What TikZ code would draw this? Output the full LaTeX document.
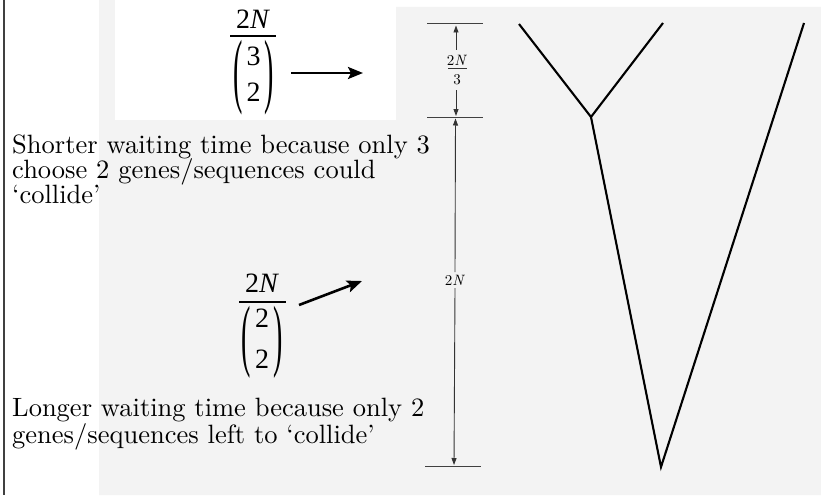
\documentclass[tikz,border=0pt]{standalone}
\usepackage{fontspec}
\usepackage{graphicx}
\usetikzlibrary{arrows.meta}
\setmainfont{lmroman10-regular.otf}[ItalicFont=lmroman10-italic.otf, BoldFont=lmroman10-bold.otf]
\newfontfamily\tms{Liberation Serif}
\definecolor{scan}{RGB}{243,243,243}
\newcommand{\lpar}[1]{\vcenter{\hbox{\scalebox{1}[#1]{(}}}}
\newcommand{\rpar}[1]{\vcenter{\hbox{\scalebox{1}[#1]{)}}}}
\begin{document}
\begin{tikzpicture}[x=1pt,y=-1pt,
  bodytext/.style={font=\fontsize{26.5}{25}\selectfont, inner sep=0, anchor=base west},
  fnum/.style={font=\tms\fontsize{28}{28}\selectfont, inner sep=0, anchor=base},
  fbin/.style={font=\tms\fontsize{28}{28}\selectfont, inner sep=0, anchor=center},
  fbar/.style={line width=1.3pt},
  bigarrow/.style={line width=2.6pt, -{Stealth[length=15pt,width=12pt,inset=3pt]}},
  dimline/.style={draw=black!80, line width=0.9pt},
  dimarrow/.style={dimline, -{Triangle[length=7pt,width=5pt]}},
  tickline/.style={draw=black!75, line width=1pt},
  branch/.style={draw=black, line width=2.1pt},
  dimlab/.style={font=\fontsize{15}{15}\selectfont, inner sep=0, anchor=base}
]
\useasboundingbox (0,0) rectangle (821,495);
% background
\fill[scan] (99,0) -- (115,0) -- (115,7) -- (821,7) -- (821,495) -- (99,495) -- cycle;
\fill[white] (115,0) rectangle (396,120);
\draw[black!75, line width=1.2pt] (4,0) -- (4,495);

% top formula
\node[fnum] (n1) at (253,29) {2\textit{N}};
\draw[fbar] (230,36) -- (276,36);
\node[fbin] (b1) at (253.5,78) {$\lpar{2.95}\vcenter{\hbox{\hspace{4pt}\begin{tabular}{@{}c@{}}3\\[8pt]2\end{tabular}\hspace{4pt}}}\rpar{2.95}$};
\coordinate (a1s) at (291,73);
\coordinate (a1e) at (363,73);
\draw[bigarrow] (a1s) -- (a1e);

% texts
\node[bodytext] (s1) at (12,153) {Shorter waiting time because only 3};
\node[bodytext] (s2) at (12,178) {choose 2 genes/sequences could};
\node[bodytext] (s3) at (12,203) {‘collide’};

% second formula
\node[fnum] (n2) at (262,292) {2\textit{N}};
\draw[fbar] (239,302) -- (286,302);
\node[fbin] (b2) at (262,342) {$\lpar{2.85}\vcenter{\hbox{\hspace{4pt}\begin{tabular}{@{}c@{}}2\\[13pt]2\end{tabular}\hspace{4pt}}}\rpar{2.85}$};
\coordinate (a2s) at (299,305);
\coordinate (a2e) at (362,281);
\draw[bigarrow] (a2s) -- (a2e);

\node[bodytext] (l1) at (12,416) {Longer waiting time because only 2};
\node[bodytext] (l2) at (12,443) {genes/sequences left to ‘collide’};

% dimension lines
\draw[tickline] (427,24) -- (483,24);
\draw[tickline] (427,117) -- (483,117);
\draw[tickline] (425,466) -- (481,466);
\node[dimlab] (t1) at (457,65) {2\textit{N}};
\draw[black!80, line width=0.8pt] (448,68.5) -- (467,68.5);
\node[dimlab] (t2) at (457,84) {3};
\coordinate (u1) at (456,50);
\coordinate (u1e) at (456,25.5);
\coordinate (u2) at (456,90);
\coordinate (u2e) at (456,116);
\draw[dimarrow] (u1) -- (u1e);
\draw[dimarrow] (u2) -- (u2e);
\node[dimlab, anchor=center] (t3) at (455,280) {2\textit{N}};
\coordinate (v1) at (455,272);
\coordinate (v1e) at (455.5,118.5);
\coordinate (v2) at (455,288);
\coordinate (v2e) at (454,465);
\draw[dimarrow] (v1) -- (v1e);
\draw[dimarrow] (v2) -- (v2e);

% tree
\coordinate (leafA) at (519,24);
\coordinate (leafB) at (663,23);
\coordinate (leafC) at (804,23);
\coordinate (junc) at (591,117);
\coordinate (root) at (661,467);
\draw[branch] (leafA) -- (junc) -- (leafB);
\draw[branch] (junc) -- (root) -- (leafC);
\end{tikzpicture}
\end{document}
